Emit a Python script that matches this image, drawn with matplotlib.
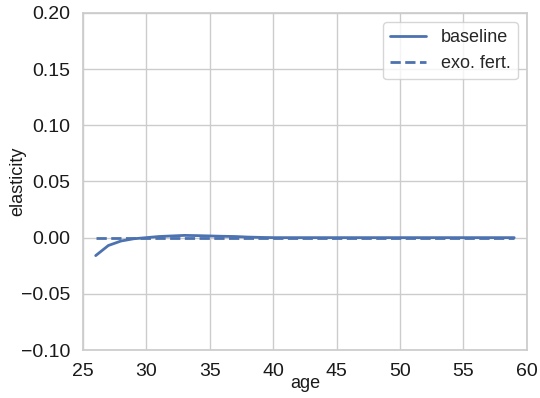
import matplotlib
matplotlib.use("Agg")
import matplotlib.pyplot as plt
import seaborn as sns

sns.set_theme(style="whitegrid")
plt.rcParams["font.family"] = ["Liberation Sans", "DejaVu Sans"]

ages = list(range(26, 60))
baseline = [-0.016, -0.007, -0.003, -0.001, 0.0, 0.001, 0.0015, 0.002, 0.0018,
            0.0015, 0.0012, 0.001, 0.0005, 0.0002] + [0.0] * 20
exo_fert = [0.0] * 34

fig = plt.figure(figsize=(5.4, 3.98), dpi=100)
ax = fig.add_axes([0.1537, 0.1206, 0.822, 0.847])
ax.plot(ages, baseline, color="#4c72b0", lw=2, label="baseline")
ax.plot(ages, exo_fert, color="#4c72b0", lw=2, ls="--", label="exo. fert.")
ax.set_xlim(25, 60)
ax.set_ylim(-0.10, 0.20)
ax.set_xticks(range(25, 61, 5))
ax.set_xlabel("age", fontsize=13, labelpad=-3, color="#1a1a1a")
ax.set_ylabel("elasticity", fontsize=13, labelpad=-4, color="#1a1a1a")
ax.tick_params(labelsize=14, colors="#1a1a1a", pad=3)
for s in ax.spines.values():
    s.set_color("#cccccc")
ax.legend(loc="upper right", fontsize=13, frameon=True)
plt.savefig("out.png")
